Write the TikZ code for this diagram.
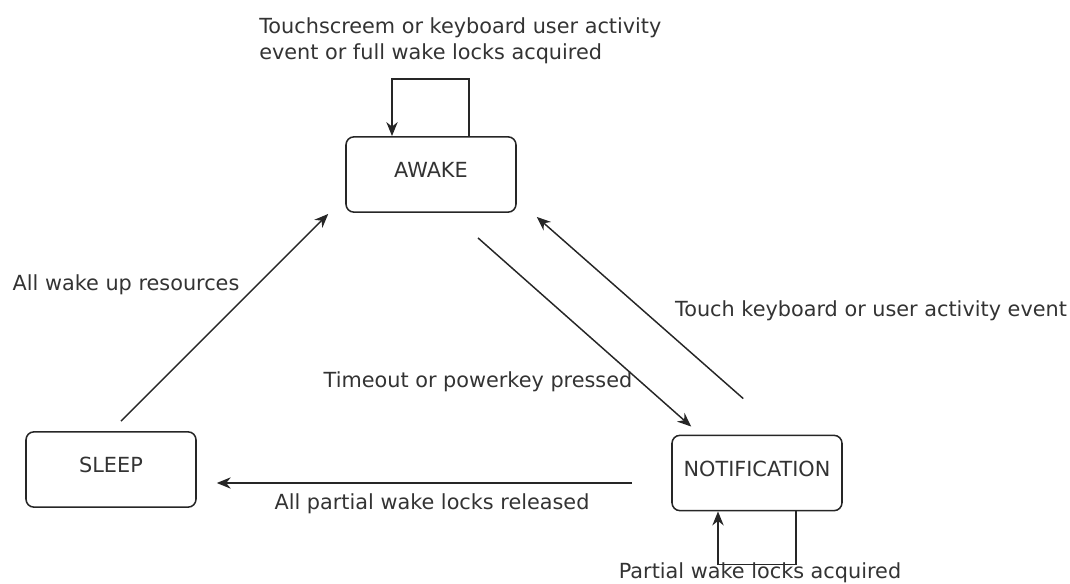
\documentclass[tikz,border=0pt]{standalone}
\usepackage{fontspec}
\setmainfont{DejaVu Sans}
\usetikzlibrary{arrows.meta,calc}
\begin{document}
\begin{tikzpicture}[x=0.75pt,y=-0.75pt]
% Styles
\tikzstyle{state} = [rectangle, rounded corners=6pt, draw=black!85, line width=1.15pt, minimum width=127.5pt, minimum height=56.5pt, text height=11pt, text depth=6pt, text=black!80, font=\fontsize{15.6}{18}\selectfont]
\tikzstyle{trans} = [font=\fontsize{15.6}{19.5}\selectfont, text=black!80, inner sep=0pt]
\tikzstyle{edge} = [draw=black!85, line width=1.1pt, -{Stealth[length=10.5pt, width=8.5pt]}]

\useasboundingbox (0,0) rectangle (1070,584);

% States
\node[state] (awake) at (431,174.5) {AWAKE};
\node[state] (sleep) at (111,469.5) {SLEEP};
\node[state] (notif) at (757,473) {NOTIFICATION};

% Self loops
\draw[edge] ([xshift=28.5pt]awake.north) -- ++(0,-57) -| ([xshift=-29.25pt]awake.north);
\draw[edge] ([xshift=29.25pt]notif.south) -- ++(0,53) -| ([xshift=-29.25pt]notif.south);

% Transitions
\draw[edge] ($(sleep.north)+(10,-10)$) -- ($(awake.south west)+(-17,1)$);
\draw[edge] ($(awake.south)+(47,25)$) -- ($(notif.north west)+(20,-8)$);
\draw[edge] ($(notif.north west)+(72,-36)$) -- ($(awake.south east)+(20,4)$);
\draw[edge] ($(notif.west)+(-39,10)$) -- ($(sleep.east)+(20,13.5)$);

% Labels
\node[trans, anchor=west, align=left] (lawake) at (259,41) {Touchscreem or keyboard user activity\\event or full wake locks acquired};
\node[trans] (lwakeup) at (126,285) {All wake up resources};
\node[trans] (ltimeout) at (478,382) {Timeout or powerkey pressed};
\node[trans] (ltouch) at (871,311) {Touch keyboard or user activity event};
\node[trans] (lpartial) at (432,504) {All partial wake locks released};
\node[trans] (lacquired) at (760,572.5) {Partial wake locks acquired};
\end{tikzpicture}
\end{document}
